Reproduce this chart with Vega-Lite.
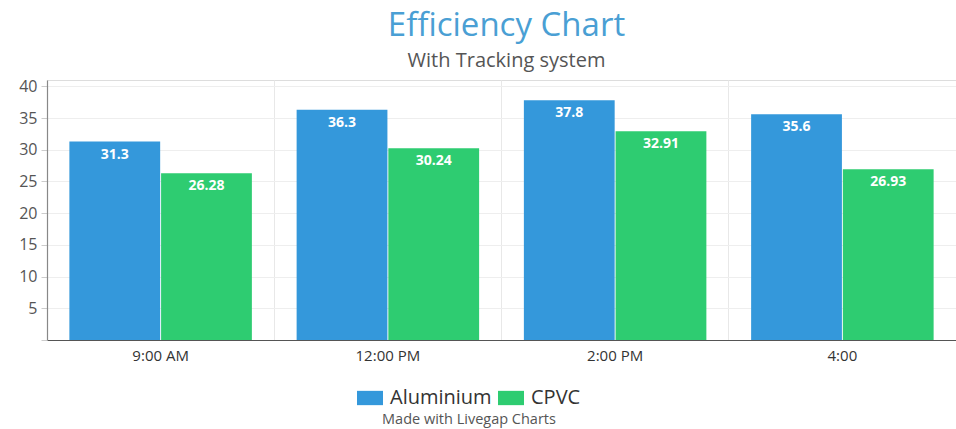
{
  "$schema": "https://vega.github.io/schema/vega-lite/v6.json",
  "autosize": {"type": "none"},
  "width": 909,
  "height": 260,
  "padding": {"left": 47, "top": 80, "right": 0, "bottom": 89},
  "background": "white",
  "title": {
    "text": "Efficiency Chart",
    "subtitle": "With Tracking system",
    "anchor": "middle",
    "dx": 5,
    "font": "Open Sans",
    "fontSize": 33,
    "fontWeight": "normal",
    "color": "#4a9fd4",
    "subtitleFont": "Open Sans",
    "subtitleFontSize": 20,
    "subtitleColor": "#555555",
    "subtitlePadding": 8,
    "offset": 7
  },
  "data": {
    "values": [
      {"time": "9:00 AM", "series": "Aluminium", "value": 31.3},
      {"time": "9:00 AM", "series": "CPVC", "value": 26.28},
      {"time": "12:00 PM", "series": "Aluminium", "value": 36.3},
      {"time": "12:00 PM", "series": "CPVC", "value": 30.24},
      {"time": "2:00 PM", "series": "Aluminium", "value": 37.8},
      {"time": "2:00 PM", "series": "CPVC", "value": 32.91},
      {"time": "4:00", "series": "Aluminium", "value": 35.6},
      {"time": "4:00", "series": "CPVC", "value": 26.93}
    ]
  },
  "encoding": {
    "x": {
      "field": "time",
      "type": "nominal",
      "sort": null,
      "scale": {"paddingInner": 0, "paddingOuter": 0},
      "axis": {
        "title": null,
        "labelAngle": 0,
        "labelFont": "Open Sans",
        "labelFontSize": 15,
        "labelColor": "#333333",
        "labelPadding": 8,
        "ticks": false,
        "grid": true,
        "gridColor": "#e8e8e8",
        "bandPosition": 0,
        "domainColor": "#555555",
        "domainWidth": 1.2
      }
    },
    "xOffset": {
      "field": "series",
      "type": "nominal",
      "scale": {"paddingInner": 0.01, "paddingOuter": 0.244}
    },
    "y": {
      "field": "value",
      "type": "quantitative",
      "scale": {"domain": [0, 41], "nice": false},
      "axis": {
        "title": null,
        "values": [0, 5, 10, 15, 20, 25, 30, 35, 40],
        "labelExpr": "datum.value == 0 ? '' : datum.label",
        "labelFont": "Open Sans",
        "labelFontSize": 16,
        "labelColor": "#555555",
        "labelPadding": 4,
        "tickColor": "#cccccc",
        "tickSize": 6,
        "gridColor": "#eeeeee",
        "domainColor": "#888888",
        "domainWidth": 1.2
      }
    }
  },
  "layer": [
    {
      "mark": {"type": "bar"},
      "encoding": {
        "color": {
          "field": "series",
          "type": "nominal",
          "scale": {"domain": ["Aluminium", "CPVC"], "range": ["#3498db", "#2ecc71"]},
          "legend": {
            "orient": "none",
            "legendX": 310,
            "legendY": 305,
            "direction": "horizontal",
            "title": "Made with Livegap Charts",
            "titleLimit": 400,
            "titleOrient": "bottom",
            "titleAnchor": "middle",
            "titleFont": "Open Sans",
            "titleFontSize": 14.5,
            "titleFontWeight": "normal",
            "titleColor": "#555555",
            "titlePadding": 5,
            "labelFont": "Open Sans",
            "labelFontSize": 20,
            "labelColor": "#333333",
            "symbolType": "M-1,-0.55H1V0.55H-1Z",
            "symbolSize": 676,
            "symbolStrokeWidth": 0,
            "symbolOpacity": 1,
            "columnPadding": 6,
            "labelOffset": 7
          }
        }
      }
    },
    {
      "mark": {
        "type": "text",
        "baseline": "middle",
        "dy": 13,
        "color": "white",
        "font": "Open Sans",
        "fontSize": 14,
        "fontWeight": "bold"
      },
      "encoding": {
        "text": {"field": "value", "type": "quantitative"}
      }
    }
  ]
}
